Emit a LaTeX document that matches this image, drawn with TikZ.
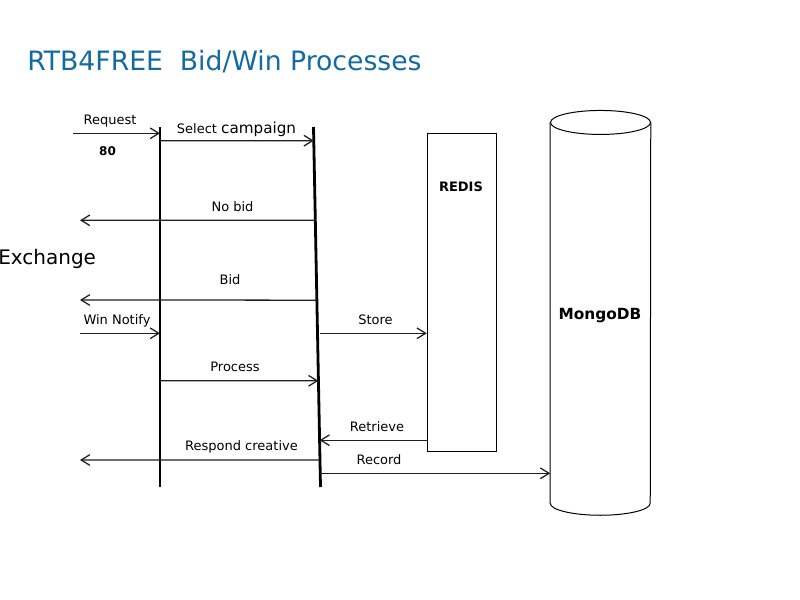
\documentclass[tikz,border=0pt]{standalone}
\usepackage{fontspec}
\setmainfont{DejaVu Sans}
\usetikzlibrary{arrows.meta,calc}
\definecolor{titleblue}{RGB}{20,106,162}
\begin{document}
\begin{tikzpicture}[x=0.75pt,y=-0.75pt,
  lbl/.style={anchor=base,inner sep=0pt,font=\fontsize{9.75pt}{11pt}\selectfont},
  boldlbl/.style={anchor=base,inner sep=0pt,font=\bfseries\fontsize{9.75pt}{11pt}\selectfont},
  msg/.style={draw=black!88,line width=0.95pt,-{Straight Barb[length=6.5pt,width=8pt,line width=0.95pt]}},
  life/.style={line width=2.1pt},
  box/.style={draw,line width=0.8pt,inner sep=0pt}]
\useasboundingbox (0,0) rectangle (800,600);

% title and actor
\node[anchor=base west,inner sep=0pt,text=titleblue,font=\fontsize{20pt}{24pt}\selectfont] (title) at (27,70.5) {RTB4FREE\ \ Bid/Win Processes};
\node[anchor=base west,inner sep=0pt,font=\fontsize{15pt}{18pt}\selectfont] (exch) at (-2,264) {Exchange};

% lifelines
\coordinate (l1top) at (160,127);
\coordinate (l1bot) at (160,487);
\coordinate (l2top) at (313.5,127);
\coordinate (l2bot) at (320.5,487);
\draw[life] (l1top) -- (l1bot);
\draw[life] (l2top) -- (l2bot);

% stores
\node[box,minimum width=52pt,minimum height=238.3pt] (redis) at (462,292.2) {};
\node[boldlbl] (redislbl) at (461,191) {REDIS};
\node[inner sep=0pt,minimum width=75pt,minimum height=285.2pt] (mongo) at (600.5,312.85) {};
\draw[line width=0.75pt] (mongo.north west) -- (mongo.south west)
  arc[start angle=180,end angle=360,x radius=37.5pt,y radius=9pt] -- (mongo.north east);
\draw[line width=0.75pt] (mongo.north) ellipse[x radius=37.5pt,y radius=9pt];
\node[anchor=base,inner sep=0pt,font=\bfseries\fontsize{11.5pt}{13pt}\selectfont] (mongolbl) at (600,319.3) {MongoDB};

% points on lifelines
\coordinate (sel2) at ($(l2top)!0.038!(l2bot)$);
\coordinate (nob2) at ($(l2top)!0.259!(l2bot)$);
\coordinate (bid2) at ($(l2top)!0.481!(l2bot)$);
\coordinate (sto2) at ($(l2top)!0.573!(l2bot)$);
\coordinate (pro2) at ($(l2top)!0.705!(l2bot)$);
\coordinate (ret2) at ($(l2top)!0.870!(l2bot)$);
\coordinate (res2) at ($(l2top)!0.925!(l2bot)$);
\coordinate (rec2) at ($(l2top)!0.962!(l2bot)$);
% free ends
\coordinate (reqS) at (73,133.3);
\coordinate (nobE) at (80,220.3);
\coordinate (bidE) at (80,300);
\coordinate (winS) at (80,333.3);
\coordinate (resE) at (80,460);
\coordinate (pro1) at (160,380.7);
\coordinate (sel1) at (160,140.7);

% messages
\draw[msg] (reqS) -- (reqS -| l1top);
\node[lbl] (reqlbl) at (110,124) {Request};
\node[boldlbl,font=\bfseries\fontsize{9pt}{11pt}\selectfont] (port) at (107.5,155) {80};

\draw[msg] (sel1) -- (sel2);
\node[lbl] (sellbl) at (236.5,133) {Select {\fontsize{11.4pt}{13pt}\selectfont campaign}};

\draw[msg] (nob2) -- (nobE);
\node[lbl] (noblbl) at (232.5,211) {No bid};

\draw[msg] (bid2) -- (bidE);
\node[lbl] (bidlbl) at (230,284) {Bid};

\draw[msg] (winS) -- (winS -| l1top);
\node[lbl] (winlbl) at (117,324) {Win Notify};

\draw[msg] ($(sto2)+(2,0)$) -- (sto2 -| redis.west);
\node[lbl] (stolbl) at (375.5,324) {Store};

\draw[msg] (pro1) -- (pro2);
\node[lbl] (prolbl) at (235,371) {Process};

\draw[msg] (ret2 -| redis.west) -- (ret2);
\node[lbl] (retlbl) at (377,431) {Retrieve};

\draw[msg] (res2) -- (resE);
\node[lbl] (reslbl) at (241.5,450.7) {Respond creative};

\draw[msg] (rec2) -- (rec2 -| mongo.west);
\node[lbl] (reclbl) at (379,464) {Record};
\end{tikzpicture}
\end{document}
